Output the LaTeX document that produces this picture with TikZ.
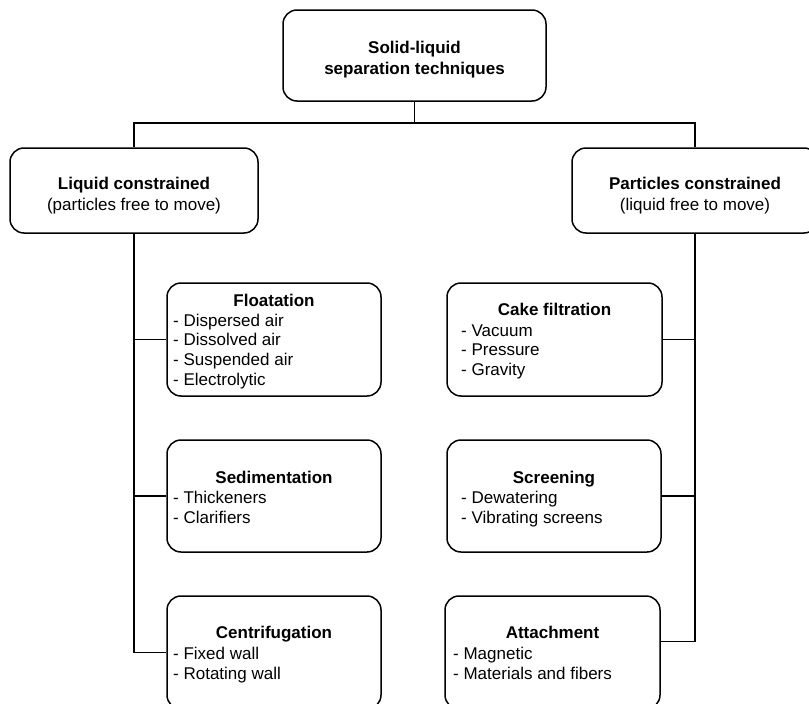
\documentclass[tikz,border=0pt]{standalone}
\usepackage{fontspec}
\setmainfont{Liberation Sans}
\begin{document}
\begin{tikzpicture}[x=1pt,y=1pt,
  box/.style={draw, line width=1.5pt, rounded corners=14pt, inner sep=0pt},
  conn/.style={draw, line width=1.9pt},
  ttl/.style={font=\fontsize{17}{20}\selectfont\bfseries, anchor=base, inner sep=0pt},
  sub/.style={font=\fontsize{17}{20}\selectfont, anchor=base, inner sep=0pt},
  item/.style={font=\fontsize{17}{20}\selectfont, anchor=base west, inner sep=0pt}]
\useasboundingbox (0,0) rectangle (809,-704);
\clip (0,0) rectangle (809,-704);
% level 0 and 1 boxes
\node[box, minimum width=263pt, minimum height=91pt] (top) at (414.5,-55.5) {};
\node[box, minimum width=248pt, minimum height=85pt] (lc) at (134,-190.5) {};
\node[box, minimum width=246pt, minimum height=85pt] (pc) at (695,-190.5) {};
% children
\node[box, minimum width=214pt, minimum height=113pt] (flo) at (274,-339.5) {};
\node[box, minimum width=214pt, minimum height=112pt] (sed) at (274,-496) {};
\node[box, minimum width=214pt, minimum height=113pt] (cen) at (274,-652.5) {};
\node[box, minimum width=215pt, minimum height=113pt] (cak) at (554.5,-339.5) {};
\node[box, minimum width=214pt, minimum height=112pt] (scr) at (554,-496) {};
\node[box, minimum width=215pt, minimum height=113pt] (att) at (552.5,-652.5) {};
% texts
\node[ttl] (topA) at (414.5,-53.7) {Solid-liquid};
\node[ttl] (topB) at (414.5,-74) {separation techniques};
\node[ttl] (lcA) at (134,-189) {Liquid constrained};
\node[sub] (lcB) at (134,-210) {(particles free to move)};
\node[ttl] (pcA) at (695,-189) {Particles constrained};
\node[sub] (pcB) at (695,-210) {(liquid free to move)};
\node[ttl] (floT) at (274,-306) {Floatation};
\foreach \t [count=\i] in {- Dispersed air, - Dissolved air, - Suspended air, - Electrolytic}
  \node[item] (flo-\i) at (173,{-326-19.7*(\i-1)}) {\t};
\node[ttl] (sedT) at (274,-483) {Sedimentation};
\foreach \t [count=\i] in {- Thickeners, - Clarifiers}
  \node[item] (sed-\i) at (173,{-503-20*(\i-1)}) {\t};
\node[ttl] (cenT) at (274,-638) {Centrifugation};
\foreach \t [count=\i] in {- Fixed wall, - Rotating wall}
  \node[item] (cen-\i) at (173,{-659-20*(\i-1)}) {\t};
\node[ttl] (cakT) at (554.5,-315) {Cake filtration};
\foreach \t [count=\i] in {- Vacuum, - Pressure, - Gravity}
  \node[item] (cak-\i) at (461,{-336-19.5*(\i-1)}) {\t};
\node[ttl] (scrT) at (554,-483) {Screening};
\foreach \t [count=\i] in {- Dewatering, - Vibrating screens}
  \node[item] (scr-\i) at (461,{-503-20*(\i-1)}) {\t};
\node[ttl] (attT) at (552.5,-638) {Attachment};
\foreach \t [count=\i] in {- Magnetic, - Materials and fibers}
  \node[item] (att-\i) at (453,{-659-20*(\i-1)}) {\t};
% connectors
\coordinate (bar) at (414.5,-123);
\draw[conn] (top.south) -- (bar);
\draw[conn] (lc.north) |- (bar) -| (pc.north);
\draw[conn] (lc.south) |- (cen.west);
\draw[conn] (lc.south |- flo.west) -- (flo.west);
\draw[conn] (lc.south |- sed.west) -- (sed.west);
\draw[conn] (pc.south) |- ([yshift=11pt]att.east);
\draw[conn] (pc.south |- cak.east) -- (cak.east);
\draw[conn] (pc.south |- scr.east) -- (scr.east);
\end{tikzpicture}
\end{document}
